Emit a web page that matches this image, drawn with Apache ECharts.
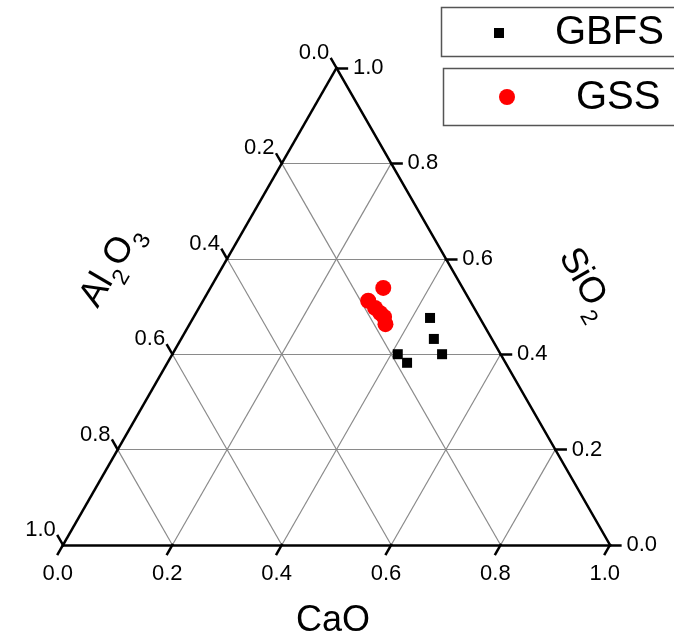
<!DOCTYPE html>
<html>
<head>
<meta charset="utf-8">
<script src="https://cdn.jsdelivr.net/npm/echarts@6/dist/echarts.min.js"></script>
<style>
  html, body { margin: 0; padding: 0; background: #fff; }
  #chart { width: 674px; height: 638px; }
</style>
</head>
<body>
<div id="chart"></div>
<script>
// ternary compositions (fractions)
const gbfsCaO   = [0.433, 0.462, 0.493, 0.412, 0.438]
const gbfsSiO2  = [0.476, 0.432, 0.400, 0.400, 0.382]
const gbfsAl2O3 = [0.091, 0.106, 0.107, 0.188, 0.180]

const gssCaO   = [0.316, 0.302, 0.322, 0.337, 0.348, 0.358]
const gssSiO2  = [0.539, 0.512, 0.497, 0.486, 0.478, 0.463]
const gssAl2O3 = [0.145, 0.186, 0.181, 0.177, 0.174, 0.179]

const tickValues = [0, 0.2, 0.4, 0.6, 0.8, 1.0]
const tickLabels = ['0.0', '0.2', '0.4', '0.6', '0.8', '1.0']
const gridValues = [0.2, 0.4, 0.6, 0.8]

const SQ = Math.sqrt(3) / 2
const FONT = "'Liberation Sans', Arial, sans-serif"
const TICK = 0.019

// CaO / SiO2 -> cartesian (Al2O3 is the remainder)
function toXY(c, s) { return [c + s / 2, s * SQ] }

const edges = [
  [toXY(0, 0), toXY(1, 0)],
  [toXY(1, 0), toXY(0, 1)],
  [toXY(0, 1), toXY(0, 0)]
]

const gridLines = []
gridValues.forEach(v => {
  gridLines.push([toXY(0, v), toXY(1 - v, v)])      // SiO2 = v
  gridLines.push([toXY(v, 0), toXY(v, 1 - v)])      // CaO = v
  gridLines.push([toXY(0, 1 - v), toXY(1 - v, 0)])  // Al2O3 = v
})

// axis ticks and label anchors
const ticks = []
const bottomLab = [], leftLab = [], rightLab = []
tickValues.forEach((v, i) => {
  // CaO along bottom
  let p = toXY(v, 0)
  let e = [p[0] - 0.5 * TICK, p[1] - SQ * TICK]
  ticks.push([p, e]); bottomLab.push([e[0], e[1], tickLabels[i]])
  // Al2O3 along left edge
  p = toXY(0, 1 - v)
  e = [p[0] - 0.5 * TICK, p[1] + SQ * TICK]
  ticks.push([p, e]); leftLab.push([e[0], e[1], tickLabels[i]])
  // SiO2 along right edge
  p = toXY(1 - v, v)
  e = [p[0] + TICK, p[1]]
  ticks.push([p, e]); rightLab.push([e[0], e[1], tickLabels[i]])
})

const gbfsPts = gbfsCaO.map((c, i) => toXY(c, gbfsSiO2[i]).concat([gbfsAl2O3[i]]))
const gssPts = gssCaO.map((c, i) => toXY(c, gssSiO2[i]).concat([gssAl2O3[i]]))

function labelSeries(data, align, vAlign, offset) {
  return {
    type: 'scatter', data, symbolSize: 1, clip: false, silent: true,
    itemStyle: { color: 'transparent', opacity: 1 },
    label: {
      show: true, position: 'inside', offset, align, verticalAlign: vAlign,
      formatter: p => p.value[2], fontSize: 22, color: '#000', fontFamily: FONT
    }
  }
}

// text with subscripts, laid out in a rotated group
function chemLabel(x, y, rotation, parts) {
  const children = parts.map(p => ({
    type: 'text', x: p[1], y: p[2],
    style: { text: p[0], font: (p[2] ? 23 : 36) + 'px ' + FONT, fill: '#000', align: 'left', verticalAlign: 'middle' }
  }))
  return { type: 'group', x, y, rotation, children }
}

const chart = echarts.init(document.getElementById('chart'))
chart.setOption({
  animation: false,
  grid: { left: 63, top: 68, width: 547, height: 477 },
  xAxis: { type: 'value', min: 0, max: 1, show: false },
  yAxis: { type: 'value', min: 0, max: SQ, show: false },
  series: [
    {
      type: 'lines', coordinateSystem: 'cartesian2d', clip: false, silent: true,
      data: gridLines.map(c => ({ coords: c })),
      lineStyle: { color: '#8a8a8a', width: 1.2, opacity: 1 }
    },
    {
      type: 'lines', coordinateSystem: 'cartesian2d', clip: false, silent: true,
      data: edges.concat(ticks).map(c => ({ coords: c })),
      lineStyle: { color: '#000', width: 2.5, opacity: 1, cap: 'square' }
    },
    labelSeries(bottomLab, 'center', 'middle', [0, 20]),
    labelSeries(leftLab, 'right', 'middle', [-2, -6]),
    labelSeries(rightLab, 'left', 'middle', [6, 0]),
    {
      name: 'GBFS', type: 'scatter', data: gbfsPts, clip: false,
      symbol: 'rect', symbolSize: 10, itemStyle: { color: '#000', opacity: 1 }
    },
    {
      name: 'GSS', type: 'scatter', data: gssPts, clip: false,
      symbol: 'circle', symbolSize: 16, itemStyle: { color: '#ff0000', opacity: 1 }
    }
  ],
  graphic: [
    {
      type: 'text', x: 333, y: 621,
      style: { text: 'CaO', font: '36px ' + FONT, fill: '#000', align: 'center', verticalAlign: 'middle' }
    },
    chemLabel(586, 284, -Math.PI / 3, [['SiO', -38, 0], ['2', 24, 15]]),
    chemLabel(111, 266, Math.PI / 3, [['Al', -44, 0], ['2', -11, 15], ['O', 3, 0], ['3', 31, 15]]),
    // legend boxes
    {
      type: 'rect', shape: { x: 441.5, y: 7.5, width: 260, height: 49 },
      style: { fill: '#fff', stroke: '#555', lineWidth: 1.5 }
    },
    {
      type: 'rect', shape: { x: 443.5, y: 68.5, width: 260, height: 57 },
      style: { fill: '#fff', stroke: '#555', lineWidth: 1.5 }
    },
    {
      type: 'rect', shape: { x: 494, y: 28, width: 10, height: 10 },
      style: { fill: '#000' }
    },
    {
      type: 'circle', shape: { cx: 507, cy: 97, r: 8 },
      style: { fill: '#ff0000' }
    },
    {
      type: 'text', x: 555, y: 33,
      style: { text: 'GBFS', font: '40px ' + FONT, fill: '#000', align: 'left', verticalAlign: 'middle' }
    },
    {
      type: 'text', x: 576, y: 98,
      style: { text: 'GSS', font: '40px ' + FONT, fill: '#000', align: 'left', verticalAlign: 'middle' }
    }
  ]
})
</script>
</body>
</html>
